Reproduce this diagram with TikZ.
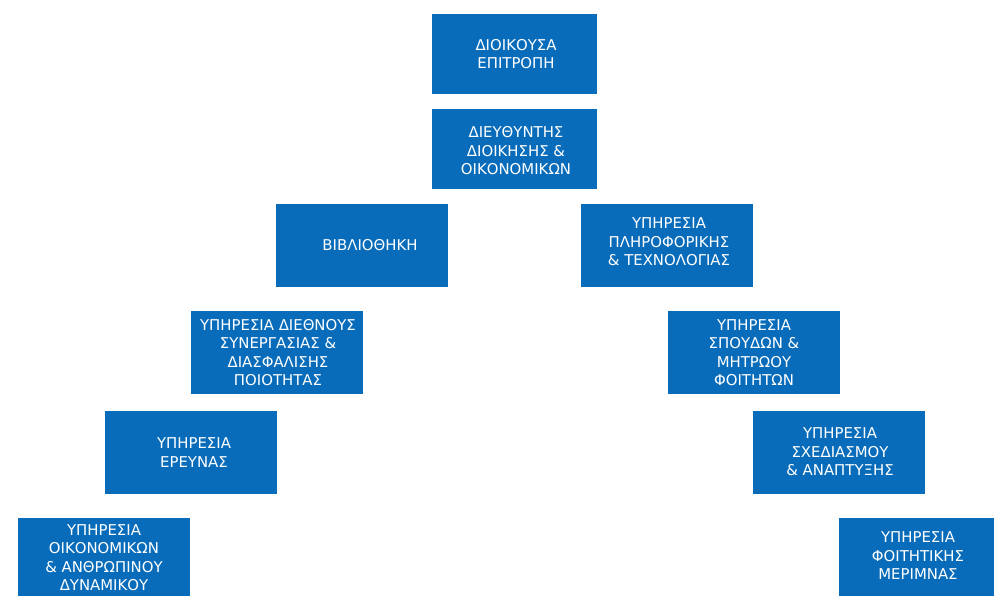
\documentclass[tikz,border=0pt]{standalone}
\usepackage{fontspec}
\setmainfont{DejaVu Sans}
\definecolor{boxblue}{RGB}{8,108,186}
\tikzset{
  box/.style={fill=boxblue, minimum width=172pt, minimum height=83pt, inner sep=0pt},
  topbox/.style={box, minimum width=165pt, minimum height=80pt},
  lbl/.style={text=white, inner sep=0pt, align=center, font=\fontsize{14.9}{18.5}\selectfont}
}
\begin{document}
\begin{tikzpicture}[x=1pt,y=-1pt]
\useasboundingbox (0,0) rectangle (994,595);
\node[topbox] (ep) at (514.5,53.5) {};
\node[lbl] (ept) at (516,54) {ΔΙΟΙΚΟΥΣΑ\\ΕΠΙΤΡΟΠΗ};
\node[topbox] (di) at (514.5,149) {};
\node[lbl] (dit) at (516,151) {ΔΙΕΥΘΥΝΤΗΣ\\ΔΙΟΙΚΗΣΗΣ \&\\ΟΙΚΟΝΟΜΙΚΩΝ};
\node[box] (bib) at (362,245.5) {};
\node[lbl] (bibt) at (370,245.5) {ΒΙΒΛΙΟΘΗΚΗ};
\node[box] (pl) at (667,245.5) {};
\node[lbl] (plt) at (669,242) {ΥΠΗΡΕΣΙΑ\\ΠΛΗΡΟΦΟΡΙΚΗΣ\\\& ΤΕΧΝΟΛΟΓΙΑΣ};
\node[box] (dia) at (277,352.5) {};
\node[lbl] (diat) at (278,352.5) {ΥΠΗΡΕΣΙΑ ΔΙΕΘΝΟΥΣ\\ΣΥΝΕΡΓΑΣΙΑΣ \&\\ΔΙΑΣΦΑΛΙΣΗΣ\\ΠΟΙΟΤΗΤΑΣ};
\node[box] (sp) at (754,352.5) {};
\node[lbl] (spt) at (754,352.5) {ΥΠΗΡΕΣΙΑ\\ΣΠΟΥΔΩΝ \&\\ΜΗΤΡΩΟΥ\\ΦΟΙΤΗΤΩΝ};
\node[box] (er) at (191,452.5) {};
\node[lbl] (ert) at (194,452.5) {ΥΠΗΡΕΣΙΑ\\ΕΡΕΥΝΑΣ};
\node[box] (sx) at (839,452.5) {};
\node[lbl] (sxt) at (840,452) {ΥΠΗΡΕΣΙΑ\\ΣΧΕΔΙΑΣΜΟΥ\\\& ΑΝΑΠΤΥΞΗΣ};
\node[box] (oik) at (104,559.5) {};
\node[lbl] (oikt) at (104,557.5) {ΥΠΗΡΕΣΙΑ\\ΟΙΚΟΝΟΜΙΚΩΝ\\\& ΑΝΘΡΩΠΙΝΟΥ\\ΔΥΝΑΜΙΚΟΥ};
\node[box] (fm) at (925,559.5) {};
\node[lbl] (fmt) at (918,556) {ΥΠΗΡΕΣΙΑ\\ΦΟΙΤΗΤΙΚΗΣ\\ΜΕΡΙΜΝΑΣ};
\end{tikzpicture}
\end{document}
